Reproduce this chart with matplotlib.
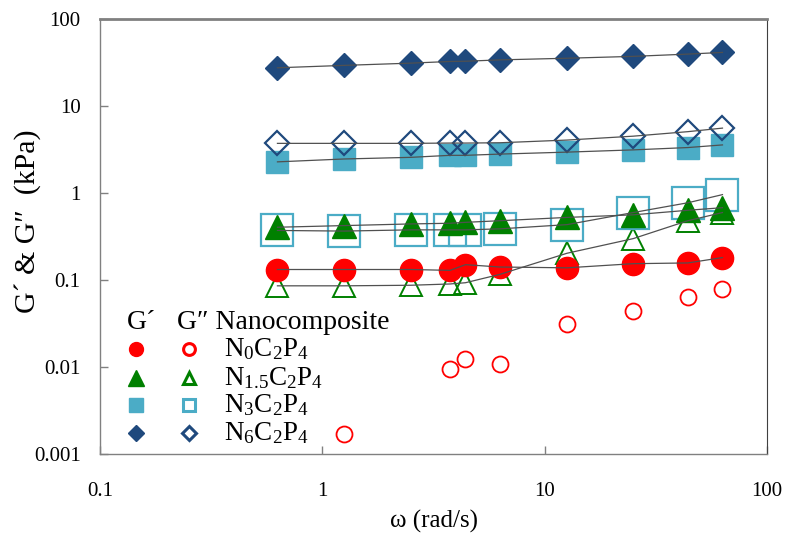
import matplotlib
matplotlib.use("Agg")
import matplotlib.pyplot as plt

plt.rcParams['font.family'] = ['Liberation Serif', 'DejaVu Serif']
plt.rcParams['mathtext.fontset'] = 'custom'
plt.rcParams['mathtext.rm'] = 'Liberation Serif'
plt.rcParams['mathtext.it'] = 'Liberation Serif:italic'

omega = [0.628, 1.25, 2.5, 3.75, 4.4, 6.28, 12.6, 25.0, 44.0, 63.0]

g1_n0 = [0.132, 0.132, 0.132, 0.129, 0.150, 0.141, 0.138, 0.154, 0.157, 0.181]
g2_n0 = [None, 0.0017, None, 0.0096, 0.0123, 0.0108, 0.031, 0.0437, 0.064, 0.0785]
g1_n15 = [0.404, 0.422, 0.441, 0.449, 0.460, 0.480, 0.524, 0.561, 0.633, 0.678]
g2_n15 = [0.0857, 0.0857, 0.087, 0.090, 0.093, 0.116, 0.203, 0.299, 0.48, 0.596]
g1_n3 = [2.28, 2.46, 2.57, 2.71, 2.71, 2.80, 2.95, 3.13, 3.33, 3.57]
g2_n3 = [0.371, 0.365, 0.377, 0.377, 0.377, 0.387, 0.433, 0.596, 0.772, 0.958]
g1_n6 = [27.5, 29.3, 31.1, 32.5, 32.7, 33.9, 35.4, 37.2, 39.5, 41.3]
g2_n6 = [3.72, 3.72, 3.72, 3.75, 3.75, 3.78, 4.06, 4.5, 5.07, 5.57]

labels = [r"$\mathregular{N_0C_2P_4}$", r"$\mathregular{N_{1.5}C_2P_4}$",
          r"$\mathregular{N_3C_2P_4}$", r"$\mathregular{N_6C_2P_4}$"]
xticks = [0.1, 1, 10, 100]
xticklabels = ["0.1", "1", "10", "100"]
yticks = [0.001, 0.01, 0.1, 1, 10, 100]
yticklabels = ["0.001", "0.01", "0.1", "1", "10", "100"]

red = "#FF0000"
green = "#008000"
teal = "#4BACC6"
navy = "#1F497D"
linec = "#505050"

fig = plt.figure(figsize=(7.9, 5.37), dpi=100)
ax = fig.add_axes([0.1266, 0.1546, 0.8444, 0.81])

def pairs(x, y):
    xs = [a for a, b in zip(x, y) if b is not None]
    ys = [b for b in y if b is not None]
    return xs, ys

# G'' open markers
xs, ys = pairs(omega, g2_n0)
ax.plot(xs, ys, 'o', ms=11.5, mfc='none', mec=red, mew=1.3, ls='none', zorder=2)
ax.plot(omega, g2_n15, '^', ms=16, mfc='none', mec=green, mew=1.4, ls='none', zorder=2)
ax.plot(omega, g2_n3, 's', ms=23, mfc='none', mec=teal, mew=1.6, ls='none', zorder=2)
ax.plot(omega, g2_n6, 'D', ms=12, mfc='none', mec=navy, mew=1.6, ls='none', zorder=4)
# G' filled markers
ax.plot(omega, g1_n0, 'o', ms=16, color=red, ls='none', zorder=3)
ax.plot(omega, g1_n15, '^', ms=17.5, color=green, ls='none', zorder=3)
ax.plot(omega, g1_n3, 's', ms=16.5, color=teal, ls='none', zorder=3)
ax.plot(omega, g1_n6, 'D', ms=12.5, color=navy, ls='none', zorder=3)

# connecting lines
for ys in [g1_n0, g1_n15, g2_n15, g1_n3, g2_n3, g1_n6, g2_n6]:
    ax.plot(omega, ys, color=linec, lw=0.9, zorder=5)

ax.set_xscale('log')
ax.set_yscale('log')
ax.set_xlim(0.1, 100)
ax.set_ylim(0.001, 100)
ax.set_xticks(xticks)
ax.set_xticklabels(xticklabels)
ax.set_yticks(yticks)
ax.set_yticklabels(yticklabels)
ax.minorticks_off()
ax.tick_params(direction='in', length=6, width=1, colors='#808080', labelcolor='black',
               labelsize=15)
ax.tick_params(axis='x', pad=20)
ax.tick_params(axis='y', pad=14)
for s in ['left', 'bottom']:
    ax.spines[s].set_color('#808080')
    ax.spines[s].set_linewidth(1)
ax.spines['top'].set_color('#808080')
ax.spines['top'].set_linewidth(2)
ax.spines['right'].set_color('#404040')
ax.spines['right'].set_linewidth(0.8)

ax.set_xlabel("ω (rad/s)", fontsize=18)
ax.xaxis.set_label_coords(0.5, -0.128)
ax.set_ylabel("G´ & G″  (kPa)", fontsize=21.5)
ax.yaxis.set_label_coords(-0.088, 0.536)

# legend (manual)
tr = ax.transAxes
ax.text(0.040, 0.303, "G´", transform=tr, fontsize=20, va='center', ha='left')
ax.text(0.115, 0.303, "G″ Nanocomposite", transform=tr, fontsize=20, va='center', ha='left')
rows_y = [0.241, 0.175, 0.113, 0.048]
mk = [('o', red, 10), ('^', green, 11), ('s', teal, 10), ('D', navy, 8)]
for (m, c, s), yy, lab in zip(mk, rows_y, labels):
    ax.plot([0.054], [yy], m, ms=s, color=c, transform=tr, clip_on=False)
    ax.plot([0.133], [yy], m, ms=s * 0.85, mfc='white', mec=c, mew=2.2, transform=tr, clip_on=False)
    ax.text(0.186, yy, lab, transform=tr, fontsize=19.5, va='center', ha='left')

fig.savefig("out.png", dpi=100)
